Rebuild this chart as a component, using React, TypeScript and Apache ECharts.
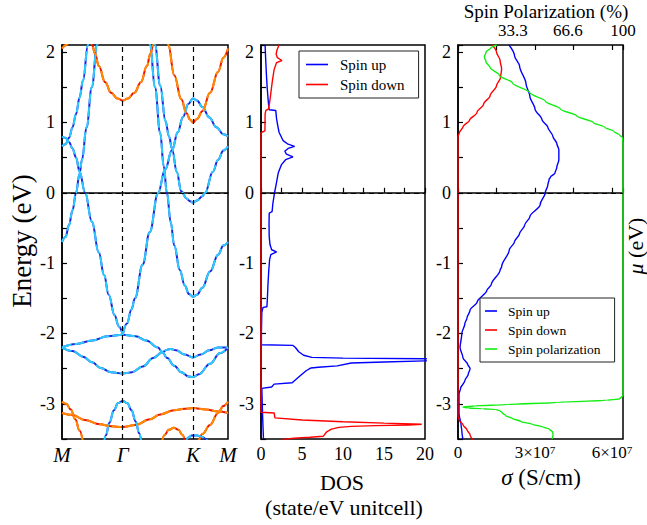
import React, { useEffect, useRef } from 'react';
import * as echarts from 'echarts';

const FONT = "'Liberation Serif', 'Times New Roman', Times, serif";

// ---- axes / ticks ----
const K_TICKS = [0, 1.732, 3.732, 4.732];
const K_LABELS = ['M', 'Γ', 'K', 'M'];
const E_MIN = -3.5;
const E_MAX = 2.1;
const DOS_MAX = 20;
const SIGMA_MAX = 6.43; // in units of 1e7 S/cm
const SIGMA_LABELS = [0, 3, 6];
const POL_TICKS = [33.3, 66.6, 100];
const POL_LABELS = ['33.3', '66.6', '100'];

// ---- band structure: spin up [k, E] ----
const UP_ALPHA = [[0, -0.7], [0.1, -0.63], [0.2, -0.46], [0.3, -0.25], [0.4, 0.0], [0.5, 0.27], [0.57, 0.47], [0.7, 0.93], [0.85, 1.5], [1.0, 2.1], [1.1, 2.5]];
const UP_BETA = [[0, 0.8], [0.1, 0.78], [0.2, 0.72], [0.3, 0.63], [0.4, 0.5], [0.5, 0.3], [0.66, 0.0], [0.85, -0.41], [1.05, -0.85], [1.2, -1.17], [1.33, -1.45], [1.5, -1.74], [1.62, -1.9], [1.732, -2.02]];
const UP_GAMMA = [[0, 0.66], [0.1, 0.69], [0.2, 0.78], [0.3, 0.93], [0.4, 1.12], [0.5, 1.35], [0.6, 1.6], [0.74, 2.1], [0.8, 2.35]];
const UP_EPS = [[1.732, -2.02], [1.85, -1.86], [1.98, -1.66], [2.08, -1.5], [2.3, -1.02], [2.5, -0.56], [2.74, 0.0], [2.94, 0.33], [3.14, 0.61], [3.3, 0.86], [3.45, 1.08], [3.6, 1.26], [3.732, 1.34], [3.85, 1.31], [4.0, 1.22], [4.2, 1.07], [4.4, 0.93], [4.6, 0.83], [4.732, 0.8]];
const UP_ZETA = [[2.6, 2.35], [2.65, 2.1], [2.8, 1.52], [2.95, 1.02], [3.05, 0.8], [3.14, 0.62], [3.27, 0.3], [3.4, 0.02], [3.55, -0.08], [3.65, -0.12], [3.732, -0.14], [3.85, -0.11], [4.0, -0.05], [4.08, 0.0], [4.3, 0.3], [4.45, 0.47], [4.6, 0.6], [4.732, 0.66]];
const UP_ETA = [[2.45, 2.35], [2.51, 2.1], [2.65, 1.5], [2.8, 0.85], [2.9, 0.38], [2.99, 0.0], [3.1, -0.42], [3.2, -0.75], [3.36, -1.1], [3.5, -1.32], [3.62, -1.44], [3.732, -1.48], [3.85, -1.45], [4.0, -1.35], [4.22, -1.12], [4.45, -0.88], [4.6, -0.75], [4.732, -0.7]];
const UP_LOW_A = [[0, -2.2], [0.4, -2.15], [0.86, -2.1], [1.3, -2.04], [1.732, -2.02], [2.1, -2.04], [2.4, -2.1], [2.74, -2.2], [2.85, -2.26], [3.0, -2.35], [3.2, -2.46], [3.4, -2.55], [3.6, -2.61], [3.732, -2.62], [3.9, -2.58], [4.22, -2.43], [4.5, -2.28], [4.732, -2.2]];
const UP_LOW_B = [[0, -2.2], [0.3, -2.25], [0.6, -2.33], [0.86, -2.41], [1.1, -2.49], [1.4, -2.55], [1.732, -2.57], [2.0, -2.55], [2.3, -2.47], [2.6, -2.35], [2.85, -2.27], [3.0, -2.23], [3.1, -2.22], [3.25, -2.24], [3.5, -2.3], [3.732, -2.34], [3.95, -2.3], [4.2, -2.24], [4.45, -2.2], [4.732, -2.2]];
const UP_LOW_C = [[1.18, -3.6], [1.25, -3.45], [1.35, -3.27], [1.48, -3.09], [1.6, -2.99], [1.732, -2.96], [1.86, -2.99], [1.98, -3.09], [2.1, -3.25], [2.2, -3.42], [2.28, -3.6]];
const UP_LOW_D = [[3.52, -3.56], [3.6, -3.48], [3.7, -3.45], [3.85, -3.45], [4.0, -3.47], [4.1, -3.5], [4.16, -3.56]];

// ---- band structure: spin down [k, E] ----
const DN_TOP_1 = [[0, 2.05], [0.12, 2.1], [0.25, 2.22]];
const DN_TOP_2 = [[0.8, 2.25], [0.86, 2.1], [0.94, 1.98], [1.05, 1.8], [1.23, 1.57], [1.4, 1.42], [1.58, 1.34], [1.732, 1.31], [1.88, 1.34], [2.06, 1.42], [2.25, 1.57], [2.42, 1.8], [2.52, 1.98], [2.6, 2.1], [2.66, 2.25]];
const DN_TOP_3 = [[2.95, 2.35], [3.03, 2.1], [3.2, 1.67], [3.4, 1.33], [3.55, 1.13], [3.65, 1.04], [3.732, 1.0], [3.85, 1.05], [4.0, 1.16], [4.22, 1.42], [4.45, 1.72], [4.6, 1.92], [4.732, 2.05]];
const DN_LOW_1L = [[0, -2.97], [0.12, -3.0], [0.25, -3.08], [0.38, -3.22], [0.5, -3.38], [0.6, -3.55]];
const DN_LOW_1R = [[3.8, -3.6], [3.88, -3.52], [4.0, -3.43], [4.22, -3.3], [4.45, -3.13], [4.6, -3.03], [4.732, -2.97]];
const DN_LOW_2 = [[0, -3.13], [0.3, -3.16], [0.65, -3.23], [1.08, -3.29], [1.4, -3.32], [1.732, -3.33], [2.1, -3.3], [2.5, -3.22], [2.8, -3.15], [3.2, -3.09], [3.5, -3.07], [3.732, -3.06], [4.1, -3.08], [4.45, -3.11], [4.732, -3.13]];
const DN_LOW_3 = [[2.84, -3.56], [2.93, -3.44], [3.04, -3.37], [3.19, -3.34], [3.32, -3.37], [3.43, -3.44], [3.52, -3.56]];

const UP_BANDS = [UP_ALPHA, UP_BETA, UP_GAMMA, UP_EPS, UP_ZETA, UP_ETA, UP_LOW_A, UP_LOW_B, UP_LOW_C, UP_LOW_D];
const DN_BANDS = [DN_TOP_1, DN_TOP_2, DN_TOP_3, DN_LOW_1L, DN_LOW_1R, DN_LOW_2, DN_LOW_3];

// ---- DOS [states/eV, E] ----
const DOS_UP = [[0.5, 2.1], [0.55, 1.95], [0.65, 1.7], [0.75, 1.5], [0.85, 1.35], [0.95, 1.22], [1.0, 1.18], [1.8, 1.17], [1.9, 1.05], [2.05, 0.95], [2.2, 0.86], [2.7, 0.74], [3.3, 0.69], [4.1, 0.66], [3.3, 0.63], [2.9, 0.59], [3.1, 0.55], [3.9, 0.51], [3.0, 0.47], [2.5, 0.4], [2.1, 0.28], [1.85, 0.12], [1.65, 0.0], [1.45, -0.15], [1.35, -0.27], [1.0, -0.29], [0.98, -0.45], [1.0, -0.62], [1.1, -0.74], [1.3, -0.81], [1.9, -0.84], [1.2, -0.88], [1.05, -0.95], [0.95, -1.1], [0.85, -1.3], [0.78, -1.5], [0.72, -1.62], [0.25, -1.63], [0.1, -1.7], [0.05, -2.0], [0.05, -2.16], [3.9, -2.17], [4.2, -2.2], [4.6, -2.26], [5.2, -2.31], [6.2, -2.34], [10, -2.35], [20, -2.36], [26, -2.375], [20, -2.39], [15, -2.405], [11, -2.42], [9.3, -2.46], [7, -2.48], [6.1, -2.49], [5.5, -2.53], [4.6, -2.62], [3.8, -2.7], [1.6, -2.72], [1.3, -2.76], [0.1, -2.78], [0.15, -3.0], [0.22, -3.25], [0.3, -3.5]];
const DOS_DN = [[2.2, 2.1], [1.95, 2.03], [1.85, 1.97], [2.0, 1.92], [2.55, 1.88], [1.9, 1.85], [1.6, 1.75], [1.4, 1.6], [1.2, 1.42], [1.05, 1.28], [0.9, 1.19], [0.6, 1.17], [0.5, 1.12], [0.48, 0.88], [0.1, 0.86], [0, 0.85], [0, -3.12], [1.6, -3.13], [1.7, -3.2], [5, -3.23], [10, -3.255], [15, -3.275], [19.6, -3.29], [18, -3.3], [14, -3.31], [11, -3.32], [9.5, -3.335], [8.6, -3.36], [8.0, -3.4], [7.6, -3.46], [6, -3.475], [4, -3.49], [2.5, -3.51]];

// ---- conductivity [sigma / 1e7 S/cm, mu] and spin polarization [%, mu] ----
const SIGMA_UP = [[1.99, 2.1], [2.2, 1.95], [2.4, 1.8], [2.65, 1.55], [2.8, 1.37], [3.0, 1.19], [3.27, 1.04], [3.5, 0.93], [3.7, 0.8], [3.85, 0.7], [3.93, 0.61], [3.93, 0.47], [3.85, 0.36], [3.78, 0.28], [3.6, 0.22], [3.55, 0.19], [3.5, 0.11], [3.4, 0.0], [3.2, -0.17], [2.8, -0.34], [2.6, -0.46], [2.4, -0.58], [2.2, -0.7], [2.0, -0.81], [1.7, -1.05], [1.64, -1.1], [1.3, -1.3], [1.12, -1.39], [0.75, -1.55], [0.47, -1.67], [0.35, -1.78], [0.27, -1.86], [0.15, -2.0], [0.08, -2.2], [0.19, -2.34], [0.38, -2.44], [0.47, -2.5], [0.4, -2.58], [0.27, -2.67], [0.1, -2.78], [0.04, -2.86], [0.04, -3.14], [0.12, -3.3], [0.15, -3.39], [0.19, -3.5]];
const SIGMA_DN = [[1.33, 2.1], [1.5, 2.0], [1.64, 1.88], [1.7, 1.76], [1.66, 1.64], [1.5, 1.52], [1.25, 1.38], [1.0, 1.26], [0.74, 1.14], [0.45, 1.03], [0.2, 0.94], [0.05, 0.85], [0, 0.8], [0, -3.18], [0.06, -3.24], [0.2, -3.3], [0.35, -3.37], [0.47, -3.44], [0.6, -3.52]];
const POLARIZATION = [[23.5, 2.1], [20, 2.06], [17, 2.0], [16, 1.93], [17, 1.86], [19.5, 1.78], [25, 1.67], [33, 1.56], [43.6, 1.42], [53, 1.3], [62, 1.19], [72, 1.09], [82, 1.0], [89, 0.93], [94.5, 0.87], [98, 0.82], [99.7, 0.78], [100, 0.7], [100, -2.88], [98, -2.93], [90, -2.95], [60, -2.98], [30, -3.01], [10, -3.03], [3, -3.045], [6, -3.06], [15, -3.07], [23, -3.08], [25.5, -3.1], [27, -3.13], [29, -3.17], [33, -3.21], [38, -3.25], [45, -3.29], [51.5, -3.33], [55.5, -3.36], [57.3, -3.4], [57.6, -3.44], [57, -3.5]];

const C_UP = '#2020dd';
const C_UP_DASH = '#2ccbff';
const C_DN = '#ee1100';
const C_DN_DASH = '#ff8c00';
const BLUE = '#0000ff';
const RED = '#ff0000';
const GREEN = '#11ee11';

const isInt = (v: number) => Math.abs(v - Math.round(v)) < 1e-6;
const baseText = { fontFamily: FONT, color: '#000' };
const axisLineStyle = { show: true, lineStyle: { color: '#000', width: 1.5 } };
const tickIn = { show: true, inside: true, length: 5, lineStyle: { color: '#000', width: 1.2 } };
const dashLine = { color: '#000', type: [5, 4] as any, width: 1.2 };

function energyAxis(gridIndex: number) {
  return {
    gridIndex, type: 'value', min: E_MIN, max: E_MAX, interval: 0.5,
    axisLine: axisLineStyle, axisTick: tickIn, splitLine: { show: false },
    axisLabel: { ...baseText, fontSize: 18, margin: 7, formatter: (v: number) => (isInt(v) ? String(Math.round(v)) : '') },
  };
}

function buildOption() {
  const series: any[] = [];
  UP_BANDS.forEach((d, i) => {
    series.push({
      type: 'line', xAxisIndex: 0, yAxisIndex: 0, data: d, symbol: 'none', smooth: 0.4, smoothMonotone: 'x', silent: true, z: 2,
      lineStyle: { color: C_UP, width: 2 },
      ...(i === 0 ? { markLine: { silent: true, symbol: ['none', 'none'], label: { show: false }, lineStyle: dashLine, data: [{ xAxis: K_TICKS[1] }, { xAxis: K_TICKS[2] }, { yAxis: 0 }] } } : {}),
    });
    series.push({ type: 'line', xAxisIndex: 0, yAxisIndex: 0, data: d, symbol: 'none', smooth: 0.4, smoothMonotone: 'x', silent: true, z: 3, lineStyle: { color: C_UP_DASH, width: 2, type: [10, 3] } });
  });
  DN_BANDS.forEach((d) => {
    series.push({ type: 'line', xAxisIndex: 0, yAxisIndex: 0, data: d, symbol: 'none', smooth: 0.4, smoothMonotone: 'x', silent: true, z: 2, lineStyle: { color: C_DN, width: 2 } });
    series.push({ type: 'line', xAxisIndex: 0, yAxisIndex: 0, data: d, symbol: 'none', smooth: 0.4, smoothMonotone: 'x', silent: true, z: 3, lineStyle: { color: C_DN_DASH, width: 2, type: [10, 3] } });
  });
  series.push({
    name: 'Spin up', type: 'line', xAxisIndex: 1, yAxisIndex: 1, data: DOS_UP, symbol: 'none', color: BLUE, itemStyle: { color: BLUE }, lineStyle: { color: BLUE, width: 1.4 }, z: 3,
    markLine: { silent: true, symbol: ['none', 'none'], label: { show: false }, lineStyle: dashLine, data: [{ yAxis: 0 }] },
  });
  series.push({ name: 'Spin down', type: 'line', xAxisIndex: 1, yAxisIndex: 1, data: DOS_DN, symbol: 'none', color: RED, itemStyle: { color: RED }, lineStyle: { color: RED, width: 1.4 }, z: 3 });
  series.push({
    name: 'σ Spin up', type: 'line', xAxisIndex: 2, yAxisIndex: 2, data: SIGMA_UP, symbol: 'none', smooth: 0.3, smoothMonotone: 'y', color: BLUE, itemStyle: { color: BLUE }, lineStyle: { color: BLUE, width: 1.4 }, z: 3,
    markLine: { silent: true, symbol: ['none', 'none'], label: { show: false }, lineStyle: dashLine, data: [{ yAxis: 0 }] },
  });
  series.push({ name: 'σ Spin down', type: 'line', xAxisIndex: 2, yAxisIndex: 2, data: SIGMA_DN, symbol: 'none', smooth: 0.3, smoothMonotone: 'y', color: RED, itemStyle: { color: RED }, lineStyle: { color: RED, width: 1.4 }, z: 3 });
  series.push({ name: 'σ Spin polarization', type: 'line', xAxisIndex: 4, yAxisIndex: 2, data: POLARIZATION, symbol: 'none', smooth: 0.3, smoothMonotone: 'y', color: GREEN, itemStyle: { color: GREEN }, lineStyle: { color: GREEN, width: 1.4 }, z: 4 });

  const gridBase = { show: true, borderColor: '#000', borderWidth: 1.5, top: 45, height: 394 };
  const center = { align: 'center', verticalAlign: 'middle', textAlign: 'center', textVerticalAlign: 'middle' };
  return {
    animation: false,
    backgroundColor: '#fff',
    textStyle: { fontFamily: FONT },
    grid: [
      { ...gridBase, left: 62, width: 166 },
      { ...gridBase, left: 261, width: 164 },
      { ...gridBase, left: 458, width: 165 },
    ],
    xAxis: [
      {
        gridIndex: 0, type: 'value', min: K_TICKS[0], max: K_TICKS[3], axisLine: axisLineStyle, axisTick: { show: false }, splitLine: { show: false },
        axisLabel: {
          ...baseText, fontSize: 21, fontStyle: 'italic', margin: 5, customValues: K_TICKS,
          formatter: (v: number) => { const i = K_TICKS.findIndex((t) => Math.abs(t - v) < 1e-3); return i >= 0 ? K_LABELS[i] : ''; },
        },
      },
      {
        gridIndex: 1, type: 'value', min: 0, max: DOS_MAX, interval: 2.5, axisLine: axisLineStyle, axisTick: tickIn, splitLine: { show: false },
        axisLabel: { ...baseText, fontSize: 18, margin: 6, formatter: (v: number) => (Math.abs(v % 5) < 1e-6 ? String(v) : '') },
      },
      {
        gridIndex: 2, type: 'value', min: 0, max: SIGMA_MAX, interval: 1.5, axisLine: axisLineStyle, axisTick: tickIn, splitLine: { show: false },
        axisLabel: {
          margin: 5, lineHeight: 17,
          formatter: (v: number) => {
            const hit = SIGMA_LABELS.find((s) => Math.abs(s - v) < 1e-6);
            if (hit === undefined) return '';
            return hit === 0 ? '{n|0}' : `{n|${hit}×10}{s|7}`;
          },
          rich: {
            n: { fontFamily: FONT, color: '#000', fontSize: 17, lineHeight: 17 },
            s: { fontFamily: FONT, color: '#000', fontSize: 11, lineHeight: 11, verticalAlign: 'top' },
          },
        },
      },
      {
        gridIndex: 2, type: 'value', position: 'top', min: 0, max: SIGMA_MAX, interval: 1.5, axisLine: { show: false }, axisTick: tickIn, axisLabel: { show: false }, splitLine: { show: false },
      },
      {
        gridIndex: 2, type: 'value', position: 'top', min: 0, max: 100, axisLine: { show: false }, axisTick: { show: false }, splitLine: { show: false },
        axisLabel: {
          ...baseText, fontSize: 17, margin: 6, customValues: POL_TICKS,
          formatter: (v: number) => { const i = POL_TICKS.findIndex((t) => Math.abs(t - v) < 1e-3); return i >= 0 ? POL_LABELS[i] : ''; },
        },
      },
    ],
    yAxis: [energyAxis(0), energyAxis(1), energyAxis(2)],
    legend: [
      {
        data: ['Spin up', 'Spin down'], orient: 'vertical', left: 299, top: 51, padding: [6, 14, 6, 7], itemGap: 5, itemWidth: 22, itemHeight: 1.6, icon: 'rect',
        borderColor: '#222', borderWidth: 1, backgroundColor: '#fff', selectedMode: false,
        textStyle: { ...baseText, fontSize: 15, lineHeight: 15, padding: [0, 0, 0, 7] },
      },
      {
        data: ['σ Spin up', 'σ Spin down', 'σ Spin polarization'], orient: 'vertical', left: 480, top: 298, padding: [6, 14, 6, 5], itemGap: 5, itemWidth: 12, itemHeight: 1.6, icon: 'rect',
        borderColor: '#222', borderWidth: 1, backgroundColor: '#fff', selectedMode: false,
        formatter: (n: string) => n.replace('σ ', ''),
        textStyle: { ...baseText, fontSize: 13.5, lineHeight: 14, padding: [0, 0, 0, 6] },
      },
    ],
    graphic: [
      { type: 'text', x: 22, y: 241, rotation: Math.PI / 2, style: { text: 'Energy (eV)', fontFamily: FONT, fontSize: 27, fill: '#000', ...center } },
      { type: 'text', x: 342, y: 482, style: { text: 'DOS', fontFamily: FONT, fontSize: 22, fill: '#000', ...center } },
      { type: 'text', x: 344, y: 507, style: { text: '(state/eV unitcell)', fontFamily: FONT, fontSize: 22, fill: '#000', ...center } },
      { type: 'text', x: 541, y: 477, style: { text: '{i|σ} (S/cm)', fontFamily: FONT, fontSize: 23, fill: '#000', ...center, rich: { i: { fontFamily: FONT, fontSize: 23, fontStyle: 'italic', fill: '#000' } } } },
      { type: 'text', x: 546, y: 11, style: { text: 'Spin Polarization (%)', fontFamily: FONT, fontSize: 19, fill: '#000', ...center } },
      { type: 'text', x: 635, y: 246, rotation: Math.PI / 2, style: { text: '{i|μ} (eV)', fontFamily: FONT, fontSize: 22, fill: '#000', ...center, rich: { i: { fontFamily: FONT, fontSize: 22, fontStyle: 'italic', fill: '#000' } } } },
    ],
    series,
  };
}

export default function App() {
  const ref = useRef<HTMLDivElement>(null);
  useEffect(() => {
    if (!ref.current) return;
    const chart = echarts.init(ref.current, null, { renderer: 'svg' });
    chart.setOption(buildOption() as any);
    return () => chart.dispose();
  }, []);
  return <div ref={ref} style={{ position: 'absolute', left: 0, top: 0, width: 647, height: 525, background: '#fff' }} />;
}
